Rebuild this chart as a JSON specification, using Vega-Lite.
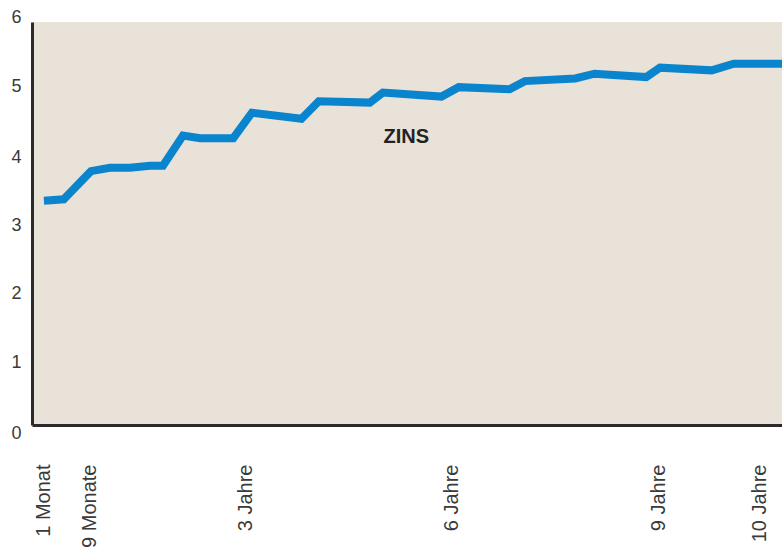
{
  "$schema": "https://vega.github.io/schema/vega-lite/v6.json",
  "width": 750,
  "height": 403,
  "autosize": "none",
  "padding": {"left": 32, "top": 22, "right": 0, "bottom": 129},
  "background": "#ffffff",
  "config": {
    "view": {"fill": "#e9e2d8", "stroke": null},
    "axis": {"labelFont": "Liberation Sans", "labelColor": "#3a3a3a", "grid": false, "ticks": false, "tickSize": 0, "domainColor": "#2a2a2a", "domainWidth": 3}
  },
  "datasets": {
    "kurve": [
      {"laufzeit": 0.083, "zins": 3.34},
      {"laufzeit": 0.37, "zins": 3.36},
      {"laufzeit": 0.765, "zins": 3.78},
      {"laufzeit": 1.04, "zins": 3.83},
      {"laufzeit": 1.33, "zins": 3.83},
      {"laufzeit": 1.62, "zins": 3.86},
      {"laufzeit": 1.81, "zins": 3.86},
      {"laufzeit": 2.10, "zins": 4.31},
      {"laufzeit": 2.35, "zins": 4.27},
      {"laufzeit": 2.83, "zins": 4.27},
      {"laufzeit": 3.10, "zins": 4.65},
      {"laufzeit": 3.82, "zins": 4.56},
      {"laufzeit": 4.07, "zins": 4.82},
      {"laufzeit": 4.81, "zins": 4.80},
      {"laufzeit": 5.00, "zins": 4.95},
      {"laufzeit": 5.85, "zins": 4.89},
      {"laufzeit": 6.10, "zins": 5.03},
      {"laufzeit": 6.84, "zins": 5.00},
      {"laufzeit": 7.06, "zins": 5.12},
      {"laufzeit": 7.79, "zins": 5.16},
      {"laufzeit": 8.07, "zins": 5.23},
      {"laufzeit": 8.82, "zins": 5.18},
      {"laufzeit": 9.02, "zins": 5.32},
      {"laufzeit": 9.77, "zins": 5.28},
      {"laufzeit": 10.09, "zins": 5.38},
      {"laufzeit": 10.79, "zins": 5.38}
    ],
    "beschriftung": [
      {"laufzeit": 5.34, "zins": 4.29, "text": "ZINS"}
    ]
  },
  "layer": [
    {
      "data": {"name": "kurve"},
      "mark": {"type": "line", "color": "#0a84cc", "strokeWidth": 8, "strokeCap": "butt", "strokeJoin": "miter", "clip": true},
      "encoding": {
        "x": {
          "field": "laufzeit", "type": "quantitative",
          "scale": {"domain": [-0.09, 10.79], "nice": false, "zero": false},
          "axis": {
            "title": null,
            "values": [0.083, 0.75, 3, 6, 9, 10.47],
            "labelExpr": "datum.value < 0.5 ? '1 Monat' : datum.value < 1 ? '9 Monate' : datum.value < 4 ? '3 Jahre' : datum.value < 7 ? '6 Jahre' : datum.value < 10 ? '9 Jahre' : '10 Jahre'",
            "labelAngle": -90,
            "labelAlign": "right",
            "labelBaseline": "middle",
            "labelFontSize": 20,
            "labelPadding": 39,
            "labelOverlap": false,
            "labelBound": false,
            "labelFlush": false
          }
        },
        "y": {
          "field": "zins", "type": "quantitative",
          "scale": {"domain": [0, 6], "nice": false},
          "axis": {
            "title": null,
            "values": [0, 1, 2, 3, 4, 5, 6],
            "format": "d",
            "labelFontSize": 18,
            "labelPadding": 11,
            "labelAlign": "right",
            "labelBaseline": "middle",
            "labelOverlap": false,
            "labelBound": false,
            "labelFlush": false,
            "labelOffset": {
              "condition": [
                {"test": "datum.value == 0", "value": 8},
                {"test": "datum.value == 1", "value": 5},
                {"test": "datum.value == 2", "value": 3},
                {"test": "datum.value == 3", "value": 2},
                {"test": "datum.value == 4", "value": 1},
                {"test": "datum.value == 5", "value": -3}
              ],
              "value": -5
            }
          }
        }
      }
    },
    {
      "data": {"name": "beschriftung"},
      "mark": {"type": "text", "font": "Liberation Sans", "fontWeight": "bold", "fontSize": 20, "color": "#222222", "align": "center", "baseline": "middle"},
      "encoding": {
        "x": {"field": "laufzeit", "type": "quantitative"},
        "y": {"field": "zins", "type": "quantitative"},
        "text": {"field": "text"}
      }
    }
  ]
}
